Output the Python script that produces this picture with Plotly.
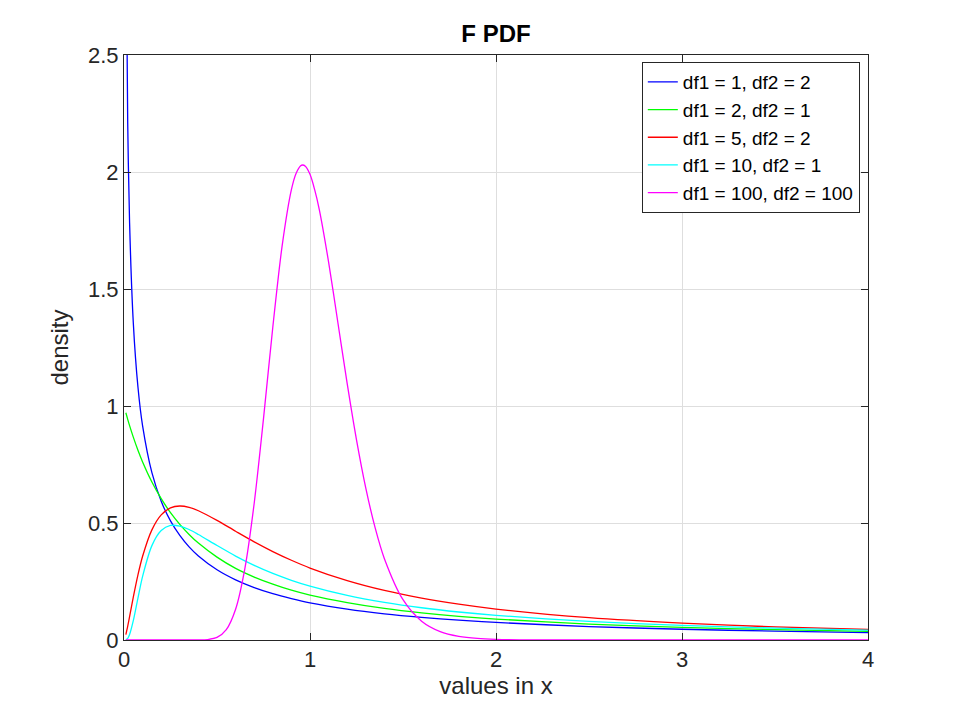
import plotly.graph_objects as go

# values
x_main = [0.01, 0.02, 0.03, 0.05, 0.075, 0.1, 0.15, 0.2, 0.25, 0.3, 0.35, 0.4, 0.5,
          0.6, 0.7, 0.8, 0.9, 1.0, 1.2, 1.4, 1.6, 1.8, 2.0, 2.5, 3.0, 3.5, 4.0]

y_blue = [3.152, 2.207, 1.784, 1.356, 1.081, 0.915, 0.715, 0.593, 0.509, 0.447, 0.398, 0.359, 0.300,
          0.257, 0.224, 0.198, 0.177, 0.159, 0.132, 0.112, 0.0968, 0.0847, 0.0750, 0.0575, 0.0459, 0.0378, 0.0318]
y_green = [0.971, 0.943, 0.916, 0.867, 0.811, 0.761, 0.675, 0.604, 0.544, 0.494, 0.451, 0.414, 0.354,
           0.306, 0.269, 0.239, 0.213, 0.192, 0.160, 0.135, 0.116, 0.101, 0.0894, 0.068, 0.054, 0.0442, 0.037]
y_red = [0.0227, 0.0589, 0.0997, 0.1829, 0.2781, 0.3577, 0.4707, 0.5346, 0.5646, 0.5726, 0.5667, 0.5524, 0.5111,
         0.4648, 0.4195, 0.3780, 0.3408, 0.3076, 0.2537, 0.2117, 0.1789, 0.1529, 0.1321, 0.0952, 0.0718, 0.0559, 0.0448]
y_cyan = [0.0007, 0.0072, 0.0235, 0.0827, 0.1793, 0.2719, 0.4033, 0.4677, 0.4894, 0.4866, 0.4721, 0.4508, 0.4039,
          0.3587, 0.3188, 0.2845, 0.2553, 0.2304, 0.1906, 0.1608, 0.1378, 0.1197, 0.1052, 0.0793, 0.0625, 0.0509, 0.0425]

x_peak = [0.01, 0.2, 0.3, 0.4, 0.45, 0.5, 0.55, 0.6, 0.65, 0.7, 0.75, 0.8, 0.85, 0.9, 0.925, 0.95, 0.96,
          0.975, 1.0, 1.025, 1.05, 1.1, 1.15, 1.2, 1.25, 1.3, 1.35, 1.4, 1.5, 1.6, 1.7, 1.8, 1.9, 2.0,
          2.2, 2.5, 3.0, 4.0]
y_magenta = [0.0, 0.0, 0.0, 0.0002, 0.0019, 0.0110, 0.0443, 0.1316, 0.3063, 0.5844, 0.9463, 1.3366, 1.6834,
             1.9246, 1.9940, 2.0269, 2.0300, 2.0247, 1.990, 1.9246, 1.8396, 1.6150, 1.3557, 1.0952, 0.8554,
             0.6490, 0.4802, 0.3475, 0.1723, 0.0806, 0.0361, 0.0157, 0.0066, 0.0028, 0.0005, 0.0, 0.0, 0.0]

series = [
    ("df1 = 1, df2 = 2", x_main, y_blue, "#0000ff"),
    ("df1 = 2, df2 = 1", x_main, y_green, "#00ff00"),
    ("df1 = 5, df2 = 2", x_main, y_red, "#ff0000"),
    ("df1 = 10, df2 = 1", x_main, y_cyan, "#00ffff"),
    ("df1 = 100, df2 = 100", x_peak, y_magenta, "#ff00ff"),
]

fig = go.Figure()
for name, xs, ys, color in series:
    fig.add_trace(go.Scatter(x=xs, y=ys, name=name, mode="lines",
                             line=dict(color=color, width=1.3, shape="spline", smoothing=0.8)))

axis_style = dict(
    showline=True, linecolor="#262626", linewidth=1, mirror="allticks",
    ticks="inside", ticklen=7, tickcolor="#262626",
    showgrid=True, gridcolor="#dedede", gridwidth=1, zeroline=False,
    tickfont=dict(size=22, color="#262626"),
)

fig.update_layout(
    width=960, height=720,
    paper_bgcolor="white", plot_bgcolor="white",
    font=dict(family="Liberation Sans, Arial, sans-serif", color="#262626"),
    margin=dict(l=116, r=100, t=47, b=88),
    title=dict(text="<b>F PDF</b>", x=0.5083, xanchor="center", y=0.964, yanchor="middle",
               font=dict(size=24, color="black")),
    xaxis=dict(range=[0, 4], dtick=1, title=dict(text="values in x", font=dict(size=24), standoff=4),
               **axis_style),
    yaxis=dict(range=[0, 2.5], dtick=0.5, title=dict(text="density", font=dict(size=24), standoff=12),
               **axis_style),
    legend=dict(x=0.989, y=0.988, xanchor="right", yanchor="top",
                bgcolor="white", bordercolor="#262626", borderwidth=1,
                font=dict(size=19, color="black"), tracegroupgap=0, itemwidth=30),
    showlegend=True,
)

fig.write_html("out.html")
